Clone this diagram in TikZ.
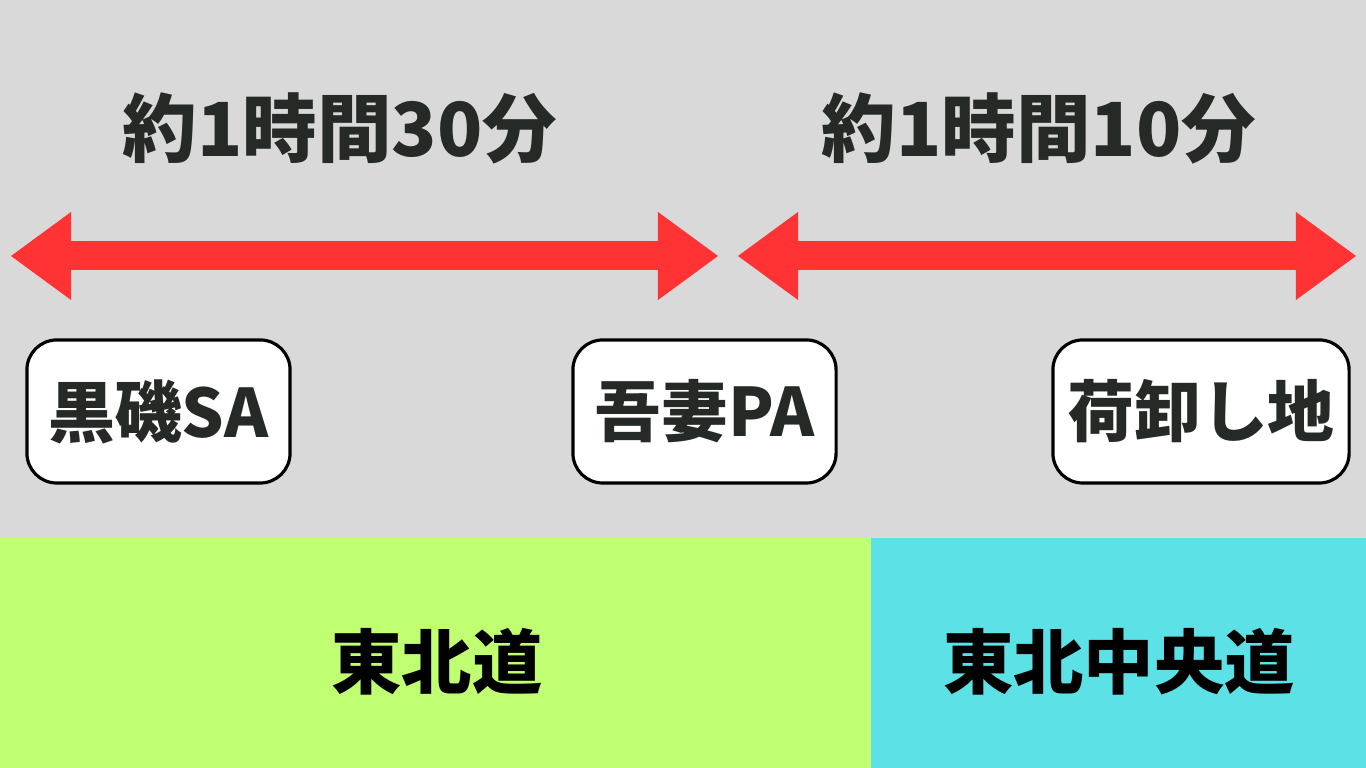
\documentclass[tikz,border=0pt]{standalone}
\usepackage{fontspec}
\setmainfont{Noto Sans CJK JP}
\usetikzlibrary{arrows.meta, positioning}
\definecolor{bggray}{HTML}{D9D9D9}
\definecolor{roadgreen}{HTML}{C1FF72}
\definecolor{roadcyan}{HTML}{5CE1E6}
\definecolor{arrowred}{HTML}{FF3333}
\definecolor{inkdark}{HTML}{262A27}

\begin{document}
\begin{tikzpicture}[x=0.01cm, y=-0.01cm,
            stop/.style={rectangle, draw=black, line width=0.9pt, rounded corners=8.5pt,
                         fill=white, minimum height=1.43cm, align=center,
                         text=inkdark, font=\fontsize{19}{22}\selectfont\bfseries},
            time/.style={text=inkdark, font=\fontsize{21.2}{25}\selectfont\bfseries},
            road/.style={text=black, font=\fontsize{20}{23}\selectfont\bfseries},
            span/.style={{Triangle[length=0.6cm, width=0.88cm, line width=0pt]}-{Triangle[length=0.6cm, width=0.88cm, line width=0pt]},
                         line width=0.29cm, arrowred}]
          \useasboundingbox (0,0) rectangle (1366,768);
          % background and road bands
          \fill[bggray] (0,0) rectangle (1366,768);
          \fill[roadgreen] (0,538) rectangle (871,768);
          \fill[roadcyan] (871,538) rectangle (1366,768);
          % travel times
          \node[time] (t1) at (340,128) {約1時間30分};
          \node[time] (t2) at (1039,128) {約1時間10分};
          \coordinate (a1l) at (11,256);
          \coordinate (a1r) at (718,256);
          \coordinate (a2l) at (738,256);
          \coordinate (a2r) at (1356,256);
          \draw[span] (a1l) -- (a1r);
          \draw[span] (a2l) -- (a2r);
          % stops
          \node[stop, minimum width=2.63cm] (kuroiso) at (158.5,411.5) {黒磯SA};
          \node[stop, minimum width=2.63cm] (azuma) at (704.5,411.5) {吾妻PA};
          \node[stop, minimum width=2.96cm] (niorosi) at (1201,411.5) {荷卸し地};
          % roads
          \node[road] (tohoku) at (437,662) {東北道};
          \node[road] (chuo) at (1119,662) {東北中央道};
        \end{tikzpicture}
\end{document}
